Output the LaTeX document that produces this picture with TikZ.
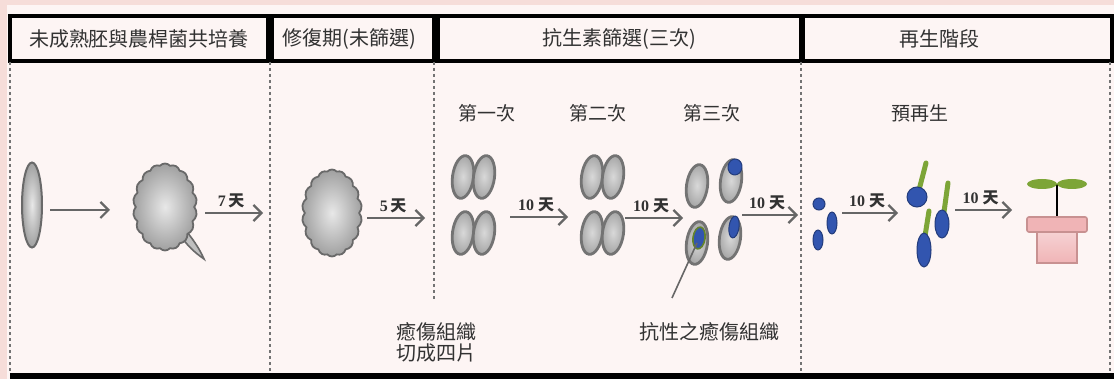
\documentclass[tikz,border=0pt]{standalone}
\usepackage{fontspec}
\setmainfont{Liberation Serif}
\newfontfamily\cjk{Noto Sans CJK TC}
\usetikzlibrary{arrows.meta,shapes.symbols,shapes.geometric}

\definecolor{paper}{RGB}{253,245,244}
\definecolor{edgepink}{RGB}{246,221,217}
\definecolor{calluslight}{RGB}{232,232,232}
\definecolor{callusdark}{RGB}{160,160,160}
\definecolor{callusline}{RGB}{105,105,105}
\definecolor{resblue}{RGB}{50,85,175}
\definecolor{shootgreen}{RGB}{125,165,55}
\definecolor{potpink}{RGB}{240,180,182}
\definecolor{potline}{RGB}{200,145,145}
\definecolor{ink}{RGB}{50,50,50}

\tikzset{
  stagebox/.style={draw=black, line width=1.6pt, fill=paper, minimum height=22.5pt, inner sep=0pt},
  stagetitle/.style={font=\cjk\fontsize{10}{12}\selectfont, text=ink},
  roundtitle/.style={font=\cjk\fontsize{9.5}{11}\selectfont, text=ink},
  note/.style={font=\cjk\fontsize{10}{10.5}\selectfont, text=ink, align=center},
  daylabel/.style={font=\bfseries\fontsize{8}{9}\selectfont, text=ink, above=1pt, pos=0.45, inner sep=1pt},
  flow/.style={draw=black!60, line width=1.1pt, -{Straight Barb[length=4pt,width=8pt]}},
  divider/.style={draw=black!55, line width=1.4pt, dash pattern=on 1.5pt off 1.5pt},
  embryo/.style={ellipse, draw=callusline, line width=1pt, inner color=calluslight, outer color=callusdark,
    minimum width=10pt, minimum height=42.5pt, inner sep=0pt},
  callus/.style={cloud, cloud puffs=18, cloud puff arc=95, draw=callusline, line width=0.9pt,
    inner color=calluslight, outer color=callusdark, inner sep=0pt},
  piece/.style={ellipse, draw=black!55, line width=1.4pt, inner color=black!15, outer color=black!35,
    minimum width=10.5pt, minimum height=21.5pt, rotate=-8, inner sep=0pt},
  bead/.style={fill=resblue, draw=resblue!70!black, line width=0.5pt},
  shoot/.style={draw=shootgreen, line width=2.5pt, line cap=round}
}

\begin{document}
\begin{tikzpicture}[x=0.5pt,y=-0.5pt]
  % page
  \useasboundingbox (0,0) rectangle (1114,379);
  \fill[edgepink] (0,0) rectangle (1114,379);
  \fill[paper] (7,5) rectangle (1114,379);

  % stage headers
  \node[stagebox, minimum width=129pt] (cocult) at (139,38.5) {};
  \node[stagebox, minimum width=81pt] (repair) at (353,38.5) {};
  \node[stagebox, minimum width=181.5pt] (select) at (619.5,38.5) {};
  \node[stagebox, minimum width=154.5pt] (regen) at (957.5,38.5) {};
  \node[stagetitle] (cocult-t) at (cocult.center) {未成熟胚與農桿菌共培養};
  \node[stagetitle] (repair-t) at ([xshift=-2pt]repair.center) {修復期(未篩選)};
  \node[stagetitle] (select-t) at (select.center) {抗生素篩選(三次)};
  \node[stagetitle] (regen-t) at ([xshift=-9pt]regen.center) {再生階段};

  % dotted dividers
  \foreach \xx in {10,270,801,1110}
    \draw[divider] (\xx,62) -- (\xx,372);
  \draw[divider] (434,62) -- (434,300);
  \draw[black, line width=3pt] (10,375.5) -- (1114,375.5);

  % round titles
  \node[roundtitle] (r1) at (487,113) {第一次};
  \node[roundtitle] (r2) at (598,113) {第二次};
  \node[roundtitle] (r3) at (712,113) {第三次};
  \node[roundtitle] (r4) at (920,113) {預再生};

  % embryo and calli
  \node[embryo] (emb) at (32,205) {};
  \filldraw[draw=callusline, fill=black!25, line width=0.8pt]
    (187,232) .. controls (195,242) and (200,250) .. (204,259)
    .. controls (194,252) and (188,246) .. (183,239) -- cycle;
  \node[callus, minimum width=32pt, minimum height=43.5pt] (cal1) at (165,207) {};
  \node[callus, minimum width=30pt, minimum height=43.5pt] (cal2) at (332,213) {};

  % quartered calli, first and second round
  \foreach \g/\cx in {a/473,b/602} {
    \node[piece] (\g1) at (\cx-10,177) {};
    \node[piece] (\g2) at (\cx+11,177) {};
    \node[piece] (\g3) at (\cx-10,233) {};
    \node[piece] (\g4) at (\cx+11,233) {};
  }

  % third round, resistant parts in blue
  \node[piece] (c1) at (697,186) {};
  \node[piece] (c2) at (731,181) {};
  \node[piece] (c3) at (697,243) {};
  \node[piece] (c4) at (730,238) {};
  \fill[bead, rotate around={-8:(735,167)}] (735,167) ellipse (7 and 8);
  \filldraw[fill=resblue, draw=shootgreen!80!black, line width=0.8pt,
    rotate around={-8:(699,238)}] (699,238) ellipse (6 and 11);
  \fill[bead, rotate around={-8:(734,227)}] (734,227) ellipse (5 and 11);
  \coordinate (restip) at (672,298);
  \draw[black!60, line width=0.8pt] (c3.center) -- (restip);

  % resistant calli before regeneration
  \filldraw[bead] (819,204) circle (6);
  \filldraw[bead] (832,223) ellipse (5 and 11);
  \filldraw[bead] (818,240) ellipse (5 and 10);

  % plantlets
  \draw[shoot] (919,190) -- (926,163);
  \draw[shoot] (944,212) -- (948,183);
  \draw[shoot] (925,236) -- (929,211);
  \filldraw[bead] (917,197) circle (10);
  \filldraw[bead] (942,224) ellipse (7 and 14);
  \filldraw[bead] (924,250) ellipse (7 and 17);

  % potted seedling
  \draw[black, line width=1.3pt] (1057,184) -- (1057,218);
  \fill[shootgreen] (1042,184) ellipse (15 and 5);
  \fill[shootgreen] (1072,184) ellipse (15 and 5);
  \draw[potline, line width=0.8pt, top color=potpink!60!white, bottom color=potpink]
    (1037,232) rectangle (1077,263);
  \draw[potline, line width=0.8pt, fill=potpink, rounded corners=1pt]
    (1027,217) rectangle (1087,232);

  % arrows with culture days
  \foreach \xa/\xb/\yy/\lab [count=\i] in {
      50/110/210/{},
      205/263/213/{7\,{\cjk 天}},
      367/425/218/{5\,{\cjk 天}},
      510/568/217/{10 {\cjk 天}},
      625/683/218/{10 {\cjk 天}},
      742/798/215/{10 {\cjk 天}},
      842/898/213/{10 {\cjk 天}},
      955/1012/210/{10 {\cjk 天}}} {
    \coordinate (s\i) at (\xa,\yy);
    \coordinate (e\i) at (\xb,\yy);
    \draw[flow] (s\i) -- node[daylabel] (d\i) {\lab} (e\i);
  }

  % notes
  \node[note] (cutnote) at (436,342) {癒傷組織\\切成四片};
  \node[note] (resnote) at (709,332) {抗性之癒傷組織};
\end{tikzpicture}
\end{document}
